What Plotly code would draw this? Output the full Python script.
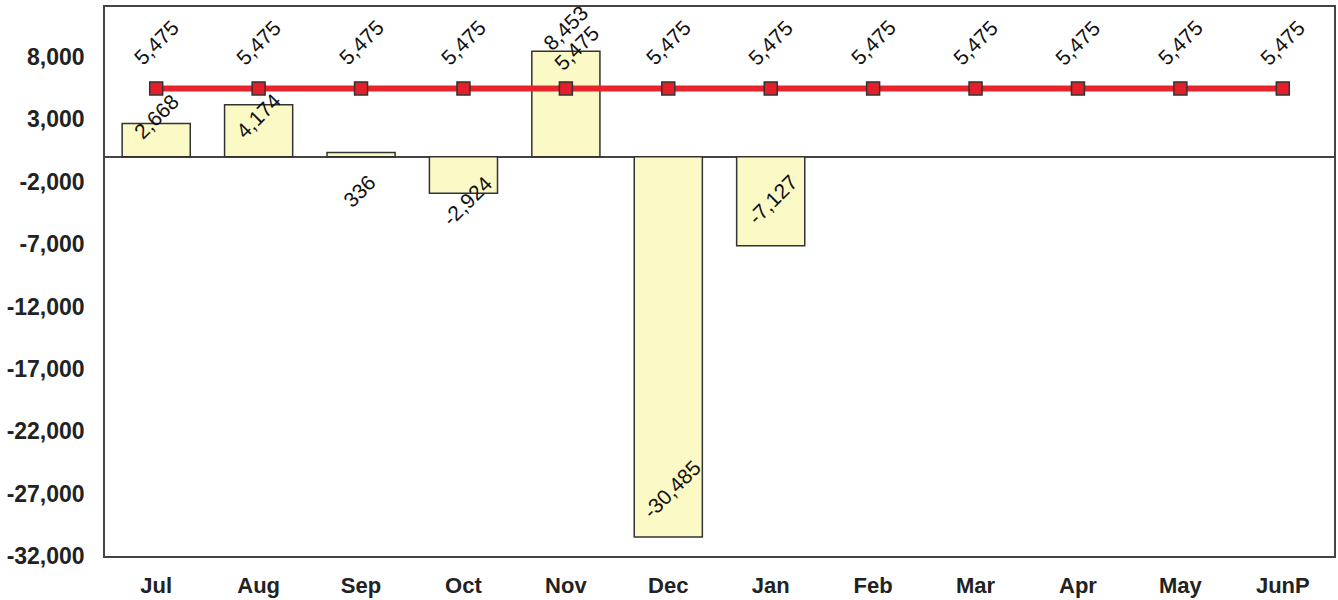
import plotly.graph_objects as go

months = ["Jul", "Aug", "Sep", "Oct", "Nov", "Dec", "Jan", "Feb", "Mar", "Apr", "May", "JunP"]
bar_months = ["Jul", "Aug", "Sep", "Oct", "Nov", "Dec", "Jan"]
actual = [2668, 4174, 336, -2924, 8453, -30485, -7127]
budget = [5475] * 12
y_ticks = [-32000, -27000, -22000, -17000, -12000, -7000, -2000, 3000, 8000]

# label placement offsets in pixels (style, not data)
bar_label_shift = [7, -11, -39, -7, 24, 48, 46]
bar_label_xshift = [0, 0, -2, 4, 0, 3, 2]
line_label_shift = [46] * 12
line_label_xshift = [0] * 12
line_label_shift[4] = 41
line_label_xshift[4] = 11

FONT = "Liberation Sans, Arial, sans-serif"

fig = go.Figure()
fig.add_trace(go.Bar(
    x=bar_months, y=actual,
    marker=dict(color="#fbfac6", line=dict(color="#333333", width=1.5)),
    width=0.665,
    showlegend=False, hoverinfo="x+y",
))
fig.add_trace(go.Scatter(
    x=months, y=budget, mode="lines+markers",
    line=dict(color="#e8232b", width=6),
    marker=dict(symbol="square", size=13, color="#e3202a",
                line=dict(color="#333333", width=1.5)),
    showlegend=False,
))

annotations = []
for m, v, ys, xs in zip(bar_months, actual, bar_label_shift, bar_label_xshift):
    annotations.append(dict(x=m, y=v, xref="x", yref="y", text=f"{v:,}",
                            showarrow=False, textangle=-45, yshift=ys, xshift=xs,
                            font=dict(family=FONT, size=21, color="#111111")))
for m, v, ys, xs in zip(months, budget, line_label_shift, line_label_xshift):
    annotations.append(dict(x=m, y=v, xref="x", yref="y", text=f"{v:,}",
                            showarrow=False, textangle=-45, yshift=ys, xshift=xs,
                            font=dict(family=FONT, size=21, color="#111111")))

fig.update_layout(
    width=1338, height=600,
    margin=dict(l=105, r=2, t=7, b=44),
    paper_bgcolor="white", plot_bgcolor="white",
    font=dict(family=FONT, color="#222222"),
    annotations=annotations,
    xaxis=dict(
        categoryorder="array", categoryarray=months,
        range=[-0.5, 11.5],
        showgrid=False, zeroline=False,
        showline=True, linecolor="#444444", linewidth=1.5, mirror=True,
        ticks="", ticklabelstandoff=9,
        tickfont=dict(family=FONT, size=22, color="#222222", weight="bold"),
    ),
    yaxis=dict(
        range=[-32000, 12000],
        tickvals=y_ticks, ticktext=[f"{t:,}" for t in y_ticks],
        showgrid=False,
        zeroline=True, zerolinecolor="#444444", zerolinewidth=1.5,
        showline=True, linecolor="#444444", linewidth=1.5, mirror=True,
        ticks="", ticklabelstandoff=14,
        tickfont=dict(family=FONT, size=23, color="#222222", weight="bold"),
    ),
)

fig.write_html("out.html")
